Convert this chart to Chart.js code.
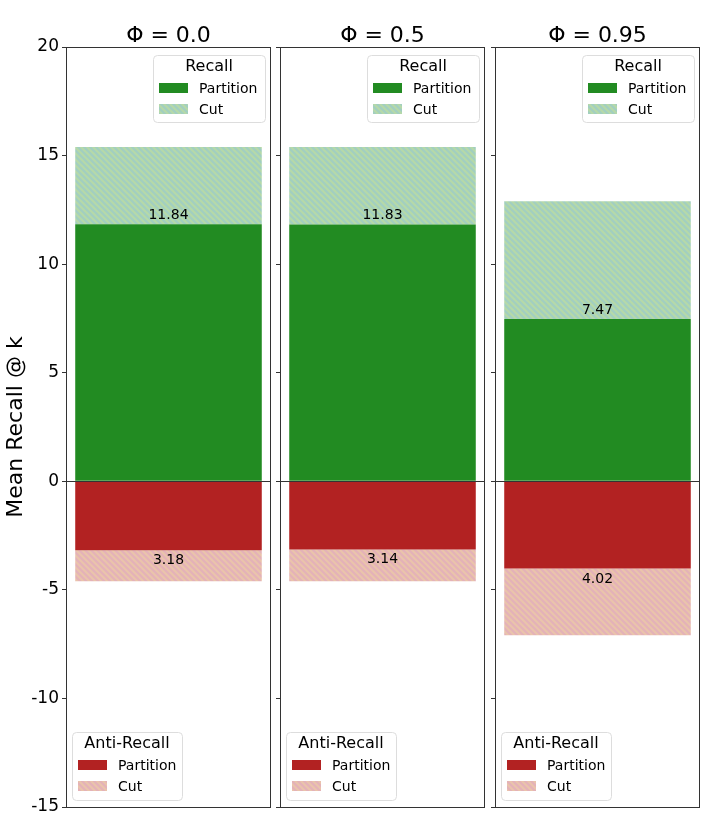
<!DOCTYPE html>
<html>
<head>
<meta charset="utf-8">
<script src="https://cdn.jsdelivr.net/npm/chart.js@4.4.1/dist/chart.umd.min.js"></script>
<style>
	html, body { margin: 0; padding: 0; background: #fff; }
	#wrap { position: relative; width: 706px; height: 822px; overflow: hidden; }
	#wrap canvas { position: absolute; top: 0; }
</style>
</head>
<body>
<div id="wrap">
	<canvas id="panel_0" width="276" height="822" style="left:0px"></canvas>
	<canvas id="panel_1" width="220" height="822" style="left:270px"></canvas>
	<canvas id="panel_2" width="220" height="822" style="left:485px"></canvas>
</div>
<script>
// data
var panelTitles = ['Φ = 0.0', 'Φ = 0.5', 'Φ = 0.95'];
var recallPartition = [11.84, 11.83, 7.47];
var recallCut = [3.55, 3.57, 5.43];
var antiPartition = [-3.18, -3.14, -4.02];
var antiCut = [-1.42, -1.46, -3.07];
var yTicks = [20, 15, 10, 5, 0, -5, -10, -15];

var FONT = "'DejaVu Sans', sans-serif";
var GREEN = '#228b22';
var RED = '#b22222';

function makeHatch(base, stripe) {
	var c = document.createElement('canvas');
	c.width = 6; c.height = 6;
	var g = c.getContext('2d');
	g.fillStyle = base;
	g.fillRect(0, 0, 6, 6);
	g.strokeStyle = stripe;
	g.lineWidth = 2;
	g.beginPath();
	g.moveTo(-1, -1); g.lineTo(7, 7);
	g.moveTo(-1, 5); g.lineTo(1, 7);
	g.moveTo(5, -1); g.lineTo(7, 1);
	g.stroke();
	return g.createPattern(c, 'repeat');
}

var greenHatch = makeHatch('#a2cfc0', '#b6d9a8');
var redHatch = makeHatch('#e4b2b8', '#eac4ab');

function drawLegend(ctx, box, title, items) {
	ctx.save();
	ctx.fillStyle = 'rgba(255,255,255,0.85)';
	ctx.strokeStyle = '#dddddd';
	ctx.lineWidth = 1;
	ctx.beginPath();
	ctx.roundRect(box.x + 0.5, box.y + 0.5, box.w, box.h, 4);
	ctx.fill();
	ctx.stroke();
	ctx.fillStyle = '#000';
	ctx.textAlign = 'center';
	ctx.textBaseline = 'middle';
	ctx.font = '16px ' + FONT;
	ctx.fillText(title, box.x + box.w / 2, box.y + 12);
	ctx.textAlign = 'left';
	ctx.font = '14px ' + FONT;
	items.forEach(function (it, i) {
		var cy = box.y + 33 + i * 21;
		ctx.fillStyle = it.color;
		ctx.fillRect(box.x + 6, cy - 5, 29, 10);
		ctx.fillStyle = '#000';
		ctx.fillText(it.label, box.x + 46, cy + 1);
	});
	ctx.restore();
}

var panelDecor = {
	id: 'panelDecor',
	afterDatasetsDraw: function (chart) {
		var ctx = chart.ctx;
		var a = chart.chartArea;
		var y0 = chart.scales.y.getPixelForValue(0);
		ctx.save();
		// zero line
		ctx.strokeStyle = '#333';
		ctx.lineWidth = 1;
		ctx.beginPath();
		ctx.moveTo(a.left, Math.round(y0) + 0.5);
		ctx.lineTo(a.right, Math.round(y0) + 0.5);
		ctx.stroke();

		// value labels at the partition ends
		ctx.fillStyle = '#000';
		ctx.font = '14px ' + FONT;
		ctx.textAlign = 'center';
		ctx.textBaseline = 'alphabetic';
		[0, 2].forEach(function (di) {
			var el = chart.getDatasetMeta(di).data[0];
			var v = chart.data.datasets[di].data[0];
			var ty = v >= 0 ? el.y - 5 : el.y + 14;
			ctx.fillText(Math.abs(v).toFixed(2), el.x, ty);
		});

		// frame
		ctx.strokeStyle = '#333';
		ctx.strokeRect(a.left + 0.5, a.top + 0.5, a.right - a.left - 1, a.bottom - a.top);

		// title
		ctx.font = '22px ' + FONT;
		ctx.fillText(chart.options.plugins.panelDecor.title, (a.left + a.right) / 2, a.top - 5);
		ctx.restore();

		drawLegend(ctx, { x: a.right - 118, y: a.top + 8, w: 112, h: 67 }, 'Recall', [
			{ label: 'Partition', color: GREEN },
			{ label: 'Cut', color: greenHatch }
		]);
		drawLegend(ctx, { x: a.left + 6, y: a.bottom - 75, w: 110, h: 68 }, 'Anti-Recall', [
			{ label: 'Partition', color: RED },
			{ label: 'Cut', color: redHatch }
		]);
	}
};

function buildPanel(i) {
	var first = (i === 0);
	var el = document.getElementById('panel_' + i);
	return new Chart(el, {
		type: 'bar',
		data: {
			labels: [''],
			datasets: [
				{ label: 'Recall Partition', data: [recallPartition[i]], backgroundColor: GREEN },
				{ label: 'Recall Cut', data: [recallCut[i]], backgroundColor: greenHatch },
				{ label: 'Anti-Recall Partition', data: [antiPartition[i]], backgroundColor: RED },
				{ label: 'Anti-Recall Cut', data: [antiCut[i]], backgroundColor: redHatch }
			]
		},
		options: {
			responsive: false,
			animation: false,
			events: [],
			layout: { padding: { top: 47, bottom: 15, left: 0, right: 5 } },
			datasets: {
				bar: { barPercentage: 0.91, categoryPercentage: 1, borderWidth: 0, stack: 'all' }
			},
			scales: {
				x: { display: false, stacked: true },
				y: {
					stacked: true,
					min: -15,
					max: 20,
					afterBuildTicks: function (scale) {
						scale.ticks = yTicks.map(function (v) { return { value: v }; });
					},
					afterFit: function (scale) {
						scale.width = first ? 66 : 10;
					},
					grid: { drawOnChartArea: false, drawTicks: true, tickLength: 4, color: '#333' },
					border: { display: true, color: '#333' },
					ticks: {
						display: first,
						color: '#000',
						padding: 3,
						font: { family: FONT, size: 17 },
						callback: function (v) { return String(v); }
					},
					title: {
						display: first,
						text: 'Mean Recall @ k',
						color: '#000',
						padding: { top: 3, bottom: 0 },
						font: { family: FONT, size: 22 }
					}
				}
			},
			plugins: {
				legend: { display: false },
				tooltip: { enabled: false },
				panelDecor: { title: panelTitles[i] }
			}
		},
		plugins: [panelDecor]
	});
}

for (var i = 0; i < panelTitles.length; i++) {
	buildPanel(i);
}
</script>
</body>
</html>
